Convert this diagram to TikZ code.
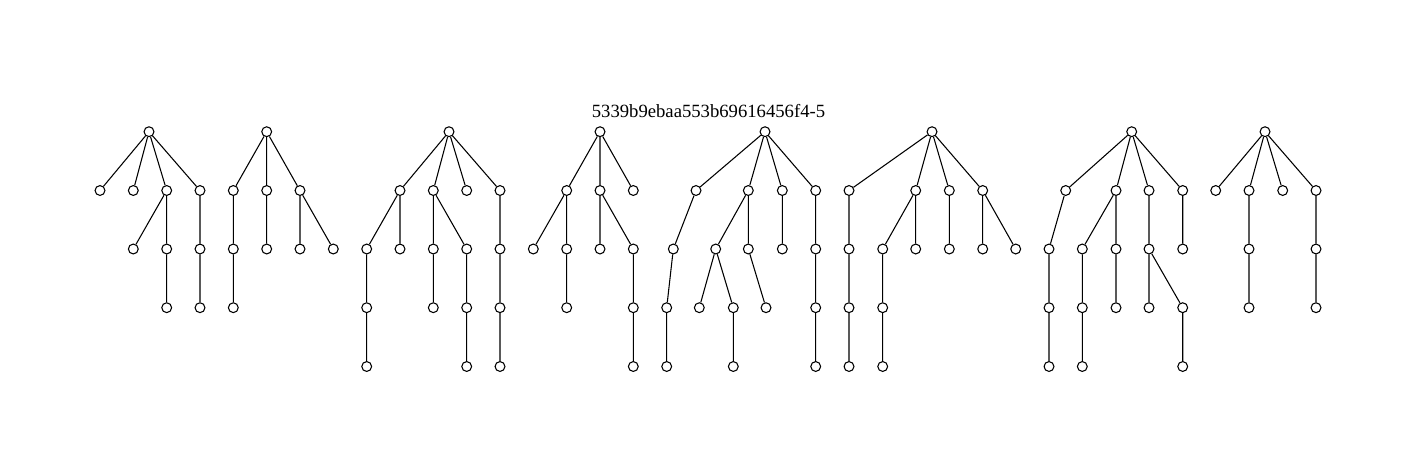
\documentclass[tikz,border=0pt]{standalone}
\usepackage{fontspec}
\setmainfont{Liberation Serif}
\begin{document}
\begin{tikzpicture}[x=0.75pt,y=-0.75pt,
  vtx/.style={circle,draw,fill=white,inner sep=0pt,minimum size=7.4pt,line width=0.8pt},
  edge/.style={line width=0.8pt}]
\useasboundingbox (0,0) rectangle (1416,468);
\node[anchor=base,font=\fontsize{14}{16}\selectfont] (title) at (708.5,117.5) {5339b9ebaa553b69616456f4-5};
% rows
\def\ra{131.7}\def\rb{190.5}\def\rc{249}\def\rd{307.7}\def\re{366.5}
% Tree 1
\node[vtx] (a0) at (149,\ra) {};
\node[vtx] (a1) at (100,\rb) {};
\node[vtx] (a2) at (133.3,\rb) {};
\node[vtx] (a3) at (166.7,\rb) {};
\node[vtx] (a4) at (200,\rb) {};
\node[vtx] (a5) at (133.3,\rc) {};
\node[vtx] (a6) at (166.7,\rc) {};
\node[vtx] (a7) at (200,\rc) {};
\node[vtx] (a8) at (166.7,\rd) {};
\node[vtx] (a9) at (200,\rd) {};
\draw[edge] (a0)--(a1) (a0)--(a2) (a0)--(a3) (a0)--(a4) (a3)--(a5) (a3)--(a6) (a4)--(a7) (a6)--(a8) (a7)--(a9);
% Tree 2
\node[vtx] (b0) at (266.7,\ra) {};
\node[vtx] (b1) at (233.3,\rb) {};
\node[vtx] (b2) at (266.7,\rb) {};
\node[vtx] (b3) at (300,\rb) {};
\node[vtx] (b4) at (233.3,\rc) {};
\node[vtx] (b5) at (266.7,\rc) {};
\node[vtx] (b6) at (300,\rc) {};
\node[vtx] (b7) at (333.3,\rc) {};
\node[vtx] (b8) at (233.3,\rd) {};
\draw[edge] (b0)--(b1) (b0)--(b2) (b0)--(b3) (b1)--(b4) (b2)--(b5) (b3)--(b6) (b3)--(b7) (b4)--(b8);
% Tree 3
\node[vtx] (c0) at (449,\ra) {};
\node[vtx] (c1) at (400,\rb) {};
\node[vtx] (c2) at (433.3,\rb) {};
\node[vtx] (c3) at (466.7,\rb) {};
\node[vtx] (c4) at (500,\rb) {};
\node[vtx] (c5) at (366.7,\rc) {};
\node[vtx] (c6) at (400,\rc) {};
\node[vtx] (c7) at (433.3,\rc) {};
\node[vtx] (c8) at (466.7,\rc) {};
\node[vtx] (c9) at (500,\rc) {};
\node[vtx] (c10) at (366.7,\rd) {};
\node[vtx] (c11) at (433.3,\rd) {};
\node[vtx] (c12) at (466.7,\rd) {};
\node[vtx] (c13) at (500,\rd) {};
\node[vtx] (c14) at (366.7,\re) {};
\node[vtx] (c15) at (466.7,\re) {};
\node[vtx] (c16) at (500,\re) {};
\draw[edge] (c0)--(c1) (c0)--(c2) (c0)--(c3) (c0)--(c4) (c1)--(c5) (c1)--(c6) (c2)--(c7) (c2)--(c8) (c4)--(c9)
  (c5)--(c10) (c7)--(c11) (c8)--(c12) (c9)--(c13) (c10)--(c14) (c12)--(c15) (c13)--(c16);
% Tree 4
\node[vtx] (d0) at (600,\ra) {};
\node[vtx] (d1) at (566.7,\rb) {};
\node[vtx] (d2) at (600,\rb) {};
\node[vtx] (d3) at (633.3,\rb) {};
\node[vtx] (d4) at (533.3,\rc) {};
\node[vtx] (d5) at (566.7,\rc) {};
\node[vtx] (d6) at (600,\rc) {};
\node[vtx] (d7) at (633.3,\rc) {};
\node[vtx] (d8) at (566.7,\rd) {};
\node[vtx] (d9) at (633.3,\rd) {};
\node[vtx] (d10) at (633.3,\re) {};
\draw[edge] (d0)--(d1) (d0)--(d2) (d0)--(d3) (d1)--(d4) (d1)--(d5) (d2)--(d6) (d2)--(d7) (d5)--(d8) (d7)--(d9) (d9)--(d10);
% Tree 5
\node[vtx] (e0) at (765,\ra) {};
\node[vtx] (e1) at (696,\rb) {};
\node[vtx] (e2) at (748.3,\rb) {};
\node[vtx] (e3) at (782.3,\rb) {};
\node[vtx] (e4) at (815.7,\rb) {};
\node[vtx] (e5) at (673.3,\rc) {};
\node[vtx] (e6) at (715.7,\rc) {};
\node[vtx] (e7) at (748.3,\rc) {};
\node[vtx] (e8) at (782.3,\rc) {};
\node[vtx] (e9) at (815.7,\rc) {};
\node[vtx] (e10) at (666.7,\rd) {};
\node[vtx] (e11) at (699.3,\rd) {};
\node[vtx] (e12) at (733.3,\rd) {};
\node[vtx] (e13) at (766,\rd) {};
\node[vtx] (e14) at (815.7,\rd) {};
\node[vtx] (e15) at (666.7,\re) {};
\node[vtx] (e16) at (733.3,\re) {};
\node[vtx] (e17) at (815.7,\re) {};
\draw[edge] (e0)--(e1) (e0)--(e2) (e0)--(e3) (e0)--(e4) (e1)--(e5) (e2)--(e6) (e2)--(e7) (e3)--(e8) (e4)--(e9)
  (e5)--(e10) (e6)--(e11) (e6)--(e12) (e7)--(e13) (e9)--(e14) (e10)--(e15) (e12)--(e16) (e14)--(e17);
% Tree 6
\node[vtx] (f0) at (932,\ra) {};
\node[vtx] (f1) at (849,\rb) {};
\node[vtx] (f2) at (915.7,\rb) {};
\node[vtx] (f3) at (949.3,\rb) {};
\node[vtx] (f4) at (982.7,\rb) {};
\node[vtx] (f5) at (849,\rc) {};
\node[vtx] (f6) at (882.7,\rc) {};
\node[vtx] (f7) at (915.7,\rc) {};
\node[vtx] (f8) at (949.3,\rc) {};
\node[vtx] (f9) at (982.7,\rc) {};
\node[vtx] (f10) at (1015.7,\rc) {};
\node[vtx] (f11) at (849,\rd) {};
\node[vtx] (f12) at (882.7,\rd) {};
\node[vtx] (f13) at (849,\re) {};
\node[vtx] (f14) at (882.7,\re) {};
\draw[edge] (f0)--(f1) (f0)--(f2) (f0)--(f3) (f0)--(f4) (f1)--(f5) (f2)--(f6) (f2)--(f7) (f3)--(f8) (f4)--(f9) (f4)--(f10)
  (f5)--(f11) (f6)--(f12) (f11)--(f13) (f12)--(f14);
% Tree 7
\node[vtx] (g0) at (1131.7,\ra) {};
\node[vtx] (g1) at (1065.7,\rb) {};
\node[vtx] (g2) at (1116,\rb) {};
\node[vtx] (g3) at (1149,\rb) {};
\node[vtx] (g4) at (1182.7,\rb) {};
\node[vtx] (g5) at (1049,\rc) {};
\node[vtx] (g6) at (1082.3,\rc) {};
\node[vtx] (g7) at (1116,\rc) {};
\node[vtx] (g8) at (1149,\rc) {};
\node[vtx] (g9) at (1182.7,\rc) {};
\node[vtx] (g10) at (1049,\rd) {};
\node[vtx] (g11) at (1082.3,\rd) {};
\node[vtx] (g12) at (1116,\rd) {};
\node[vtx] (g13) at (1149,\rd) {};
\node[vtx] (g14) at (1182.7,\rd) {};
\node[vtx] (g15) at (1049,\re) {};
\node[vtx] (g16) at (1082.3,\re) {};
\node[vtx] (g17) at (1182.7,\re) {};
\draw[edge] (g0)--(g1) (g0)--(g2) (g0)--(g3) (g0)--(g4) (g1)--(g5) (g2)--(g6) (g2)--(g7) (g3)--(g8) (g4)--(g9)
  (g5)--(g10) (g6)--(g11) (g7)--(g12) (g8)--(g13) (g8)--(g14) (g10)--(g15) (g11)--(g16) (g14)--(g17);
% Tree 8
\node[vtx] (h0) at (1265,\ra) {};
\node[vtx] (h1) at (1215.7,\rb) {};
\node[vtx] (h2) at (1249,\rb) {};
\node[vtx] (h3) at (1282.7,\rb) {};
\node[vtx] (h4) at (1316,\rb) {};
\node[vtx] (h5) at (1249,\rc) {};
\node[vtx] (h6) at (1316,\rc) {};
\node[vtx] (h7) at (1249,\rd) {};
\node[vtx] (h8) at (1316,\rd) {};
\draw[edge] (h0)--(h1) (h0)--(h2) (h0)--(h3) (h0)--(h4) (h2)--(h5) (h4)--(h6) (h5)--(h7) (h6)--(h8);
\end{tikzpicture}
\end{document}
